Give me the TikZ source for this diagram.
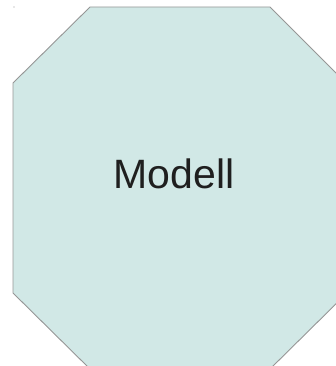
\documentclass[tikz,border=0pt]{standalone}
\usepackage{fontspec}
\setmainfont{Liberation Sans}
\definecolor{octfill}{RGB}{209,232,230}
\definecolor{octline}{RGB}{150,150,150}
\begin{document}
\begin{tikzpicture}[
      x=1pt, y=1pt,
      outline/.style={draw=octline, fill=octfill, line width=0.9pt},
      label/.style={font=\fontsize{41}{49}\selectfont, text=black!88, inner sep=0pt}
  ]
    \useasboundingbox (0,0) rectangle (336,366);
    \clip (0,0) rectangle (336,366);
    \fill[octline] (14,359) circle (0.6);
    \draw[outline] (90,359) -- (270,359) -- (347,282) -- (347,73)
      -- (270,-3) -- (90,-3) -- (13,73) -- (13,283) -- cycle;
    \node[label] (modell) at (174,192.5) {Modell};
  \end{tikzpicture}
\end{document}
